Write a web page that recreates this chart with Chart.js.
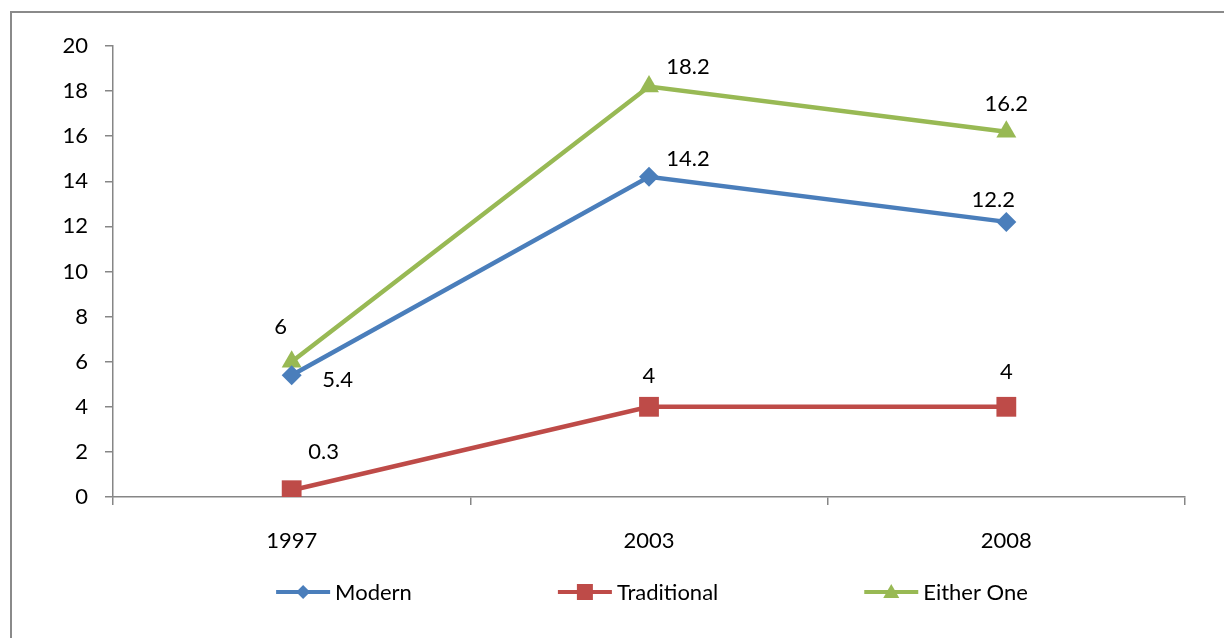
<!DOCTYPE html>
<html>
<head>
<meta charset="utf-8">
<script src="https://cdn.jsdelivr.net/npm/chart.js@4.4.0/dist/chart.umd.min.js"></script>
<style>
  html, body { margin: 0; padding: 0; background: #fff; }
  #wrap { position: relative; width: 1224px; height: 638px; }
</style>
</head>
<body>
<div id="wrap"><canvas id="myChart"></canvas></div>
<script>
let years = ["1997", "2003", "2008"]
let modern = [5.4, 14.2, 12.2]
let traditional = [0.3, 4, 4]
let eitherOne = [6, 18.2, 16.2]
let seriesNames = ["Modern", "Traditional", "Either One"]

// where each value label sits relative to its point (px)
let modernLabelOffsets = [[46, 5], [39, -18], [-13, -22]]
let traditionalLabelOffsets = [[32, -38], [0, -31], [0, -35]]
let eitherLabelOffsets = [[-11, -35], [39, -20], [0, -28]]

Chart.defaults.font.family = "Lato"
Chart.defaults.font.size = 22
Chart.defaults.color = "#000"

let axisGray = "#868686"

function drawMarker(ctx, style, x, y, r, color) {
    ctx.fillStyle = color
    ctx.beginPath()
    if (style == "rectRot") {
        ctx.moveTo(x, y - r)
        ctx.lineTo(x + r, y)
        ctx.lineTo(x, y + r)
        ctx.lineTo(x - r, y)
    } else if (style == "rect") {
        ctx.rect(x - r, y - r, 2 * r, 2 * r)
    } else {
        ctx.moveTo(x, y - r)
        ctx.lineTo(x + r, y + r * 0.75)
        ctx.lineTo(x - r, y + r * 0.75)
    }
    ctx.closePath()
    ctx.fill()
}

let frame = {
    id: "frame",
    beforeDraw(chart) {
        let ctx = chart.ctx
        ctx.save()
        ctx.strokeStyle = "#8a8a8a"
        ctx.lineWidth = 2
        ctx.strokeRect(11, 12, 1300, 700)
        ctx.restore()
    },
}

let valueLabels = {
    id: "valueLabels",
    afterDatasetsDraw(chart) {
        let ctx = chart.ctx
        ctx.save()
        ctx.font = "22px Lato"
        ctx.fillStyle = "#000"
        ctx.textAlign = "center"
        ctx.textBaseline = "middle"
        chart.data.datasets.forEach((ds, i) => {
            let meta = chart.getDatasetMeta(i)
            meta.data.forEach((pt, j) => {
                let off = ds.labelOffsets[j]
                ctx.fillText(String(ds.data[j]), pt.x + off[0], pt.y + off[1])
            })
        })
        ctx.restore()
    },
}

let bottomLegend = {
    id: "bottomLegend",
    afterDraw(chart) {
        let ctx = chart.ctx
        let lineLen = 54
        let textGap = 5
        let itemGap = 146
        let y = 592
        ctx.save()
        ctx.font = "22px Lato"
        ctx.textBaseline = "middle"
        ctx.textAlign = "left"
        let widths = chart.data.datasets.map(ds => lineLen + textGap + ctx.measureText(ds.label).width)
        let total = widths.reduce((a, b) => a + b, 0) + itemGap * (widths.length - 1)
        let x = (chart.chartArea.left + chart.chartArea.right) / 2 + 3 - total / 2
        chart.data.datasets.forEach((ds, i) => {
            ctx.strokeStyle = ds.borderColor
            ctx.lineWidth = 4
            ctx.beginPath()
            ctx.moveTo(x, y)
            ctx.lineTo(x + lineLen, y)
            ctx.stroke()
            drawMarker(ctx, ds.pointStyle, x + lineLen / 2, y, ds.legendMarker, ds.borderColor)
            ctx.fillStyle = "#000"
            ctx.fillText(ds.label, x + lineLen + textGap, y + 1)
            x += widths[i] + itemGap
        })
        ctx.restore()
    },
}

let data = {
    labels: years,
    datasets: [{
        label: seriesNames[0],
        data: modern,
        labelOffsets: modernLabelOffsets,
        borderColor: "#4A7EBB",
        backgroundColor: "#4A7EBB",
        pointStyle: "rectRot",
        pointRadius: 10,
        legendMarker: 7,
    }, {
        label: seriesNames[1],
        data: traditional,
        labelOffsets: traditionalLabelOffsets,
        borderColor: "#BE4B48",
        backgroundColor: "#BE4B48",
        pointStyle: "rect",
        pointRadius: 14,
        legendMarker: 8,
    }, {
        label: seriesNames[2],
        data: eitherOne,
        labelOffsets: eitherLabelOffsets,
        borderColor: "#98B954",
        backgroundColor: "#98B954",
        pointStyle: "triangle",
        pointRadius: 11.5,
        legendMarker: 8,
    },
    ],
}

let config = {
    type: "line",
    data: data,
    options: {
        animation: false,
        responsive: true,
        maintainAspectRatio: false,
        datasets: {
            line: {
                borderWidth: 4.5,
                pointBorderWidth: 0,
                tension: 0,
            },
        },
        layout: {
            padding: { left: 0, top: 46, right: 39, bottom: 0 },
        },
        plugins: {
            legend: { display: false },
            tooltip: { enabled: false },
        },
        scales: {
            x: {
                type: "category",
                offset: true,
                grid: {
                    offset: true,
                    drawOnChartArea: false,
                    drawTicks: true,
                    tickLength: 8,
                    color: axisGray,
                    lineWidth: 1.5,
                },
                border: { color: axisGray, width: 1.5 },
                ticks: { padding: 23 },
                afterFit: (scale) => { scale.height = 141 },
            },
            y: {
                min: 0,
                max: 20,
                grid: {
                    drawOnChartArea: false,
                    drawTicks: true,
                    tickLength: 8,
                    color: axisGray,
                    lineWidth: 1.5,
                },
                border: { color: axisGray, width: 1.5 },
                ticks: { stepSize: 2, padding: 17 },
                afterFit: (scale) => { scale.width = 113 },
            },
        },
    },
    plugins: [frame, valueLabels, bottomLegend],
}

let myChart = new Chart(document.getElementById("myChart").getContext("2d"), config)
</script>
</body>
</html>
